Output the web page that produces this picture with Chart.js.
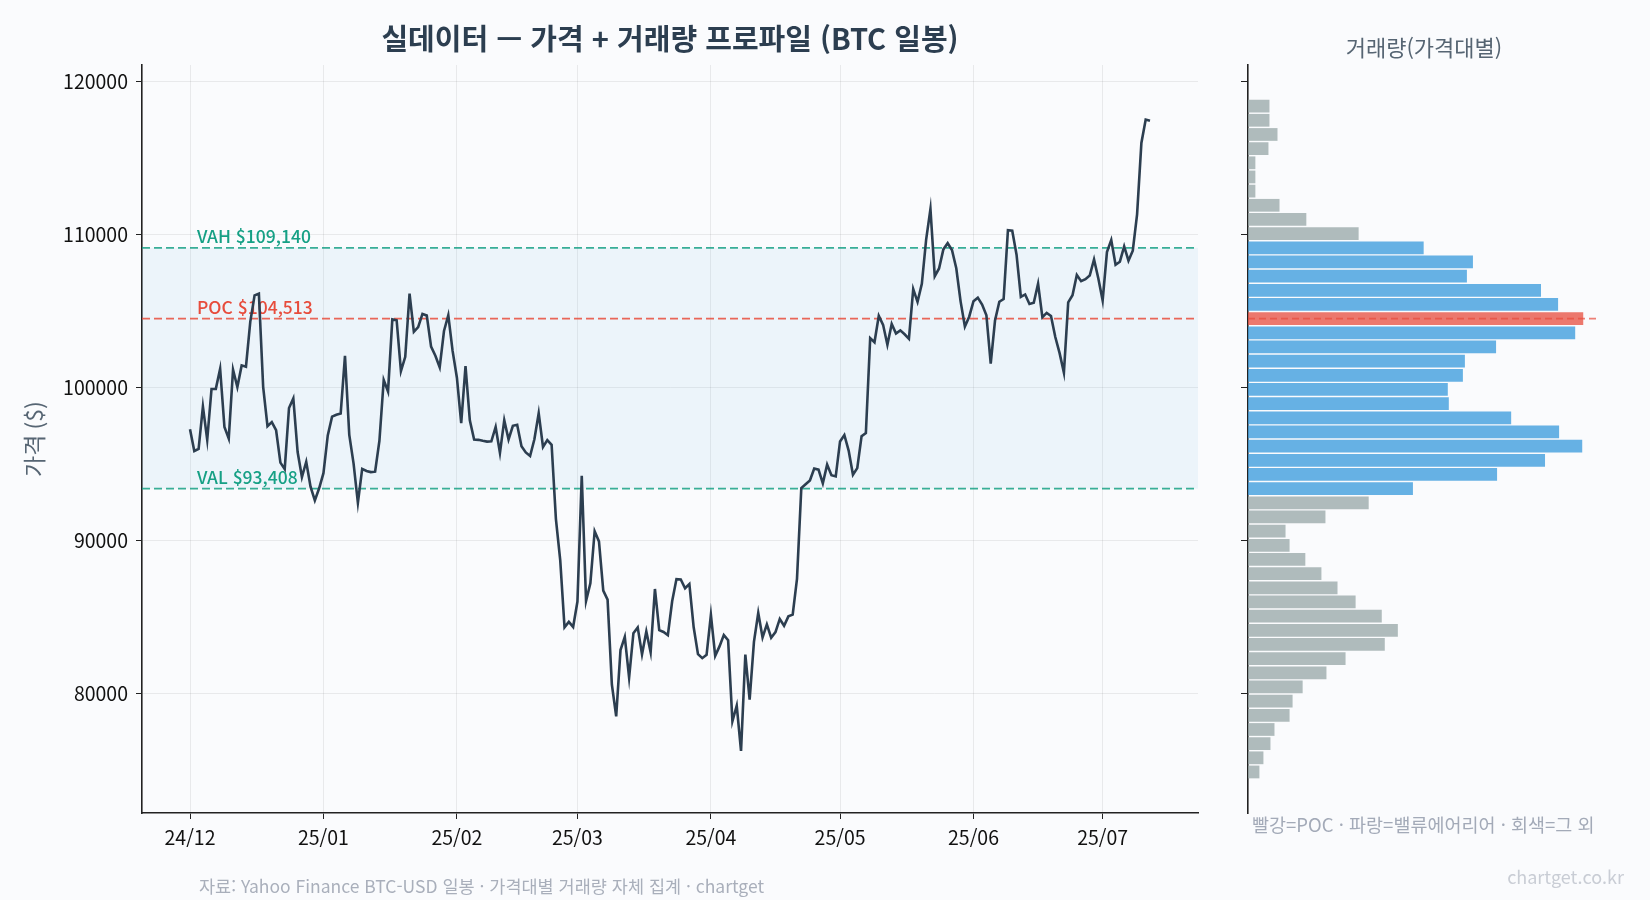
<!DOCTYPE html>
<html lang="ko">
<head>
<meta charset="utf-8">
<title>실데이터 — 가격 + 거래량 프로파일 (BTC 일봉)</title>
<script src="https://cdn.jsdelivr.net/npm/chart.js@4.4.1/dist/chart.umd.min.js"></script>
<style>
  html, body { margin: 0; padding: 0; background: #fafbfd; }
  #wrap { position: relative; width: 1650px; height: 900px; background: #fafbfd;
          font-family: 'Noto Sans CJK KR', 'Noto Sans', sans-serif; overflow: hidden; }
  canvas { position: absolute; top: 0; }
  #priceChart { left: 0; }
  #profileChart { left: 1215px; }
  .txt { position: absolute; white-space: nowrap; line-height: 1; }
  #title { left: 670px; top: 37px; transform: translate(-50%, -50%); font-size: 29px; font-weight: 700; color: #2c3e50; }
  #sideTitle { left: 1424px; top: 46px; transform: translate(-50%, -50%); font-size: 22px; color: #566573; }
  #legendNote { left: 1252px; top: 824px; transform: translateY(-50%); font-size: 18.5px; color: #a3aab8; }
  #source { left: 199px; top: 886px; transform: translateY(-50%); font-size: 17.5px; color: #a9afbb; }
  #brand { right: 26px; top: 876px; transform: translateY(-50%); font-size: 18px; color: #c9cdd5; }
</style>
</head>
<body>
<div id="wrap">
  <canvas id="priceChart" width="1215" height="900"></canvas>
  <canvas id="profileChart" width="435" height="900"></canvas>
  <div class="txt" id="title">실데이터 — 가격 + 거래량 프로파일 (BTC 일봉)</div>
  <div class="txt" id="sideTitle">거래량(가격대별)</div>
  <div class="txt" id="legendNote">빨강=POC · 파랑=밸류에어리어 · 회색=그 외</div>
  <div class="txt" id="source">자료: Yahoo Finance BTC-USD 일봉 · 가격대별 거래량 자체 집계 · chartget</div>
  <div class="txt" id="brand">chartget.co.kr</div>
</div>
<script>
// BTC-USD daily close, 2024-12-01 .. 2025-07-12 (one value per day)
const startDate = '2024-12-01';
const closes = [
  // Dec 2024
  97279, 95865, 96002, 98768, 96593, 99921, 99923, 101237, 97432, 96675,
  101173, 100043, 101459, 101372, 104298, 106030, 106140, 100041, 97490, 97756,
  97224, 95105, 94686, 98676, 99299, 95795, 94164, 95163, 93530, 92643, 93429,
  // Jan 2025
  94419, 96886, 98107, 98237, 98315, 102078, 96922, 95043, 92484, 94701,
  94566, 94488, 94516, 96534, 100505, 99756, 104462, 104408, 101090, 102016,
  106146, 103653, 103960, 104819, 104714, 102682, 102087, 101332, 103703, 104735, 102405,
  // Feb 2025
  100655, 97688, 101405, 97871, 96615, 96594, 96530, 96482, 96500, 97437,
  95748, 97885, 96623, 97508, 97580, 96176, 95773, 95539, 96636, 98334,
  96125, 96577, 96274, 91418, 88736, 84347, 84705, 84373,
  // Mar 2025
  86031, 94248, 86065, 87222, 90623, 89961, 86742, 86154, 80601, 78532,
  82862, 83722, 81066, 83969, 84343, 82579, 84075, 82718, 86854, 84167,
  84044, 83832, 86054, 87498, 87471, 86900, 87177, 84353, 82597, 82334, 82548,
  // Apr 2025
  85169, 82485, 83102, 83843, 83504, 78214, 79235, 76272, 82573, 79626,
  83404, 85287, 83684, 84542, 83668, 84033, 84895, 84450, 85063, 85174,
  87518, 93442, 93699, 93944, 94720, 94646, 93755, 94978, 94284, 94207,
  // May 2025
  96492, 96910, 95891, 94315, 94749, 96835, 97033, 103242, 102970, 104696,
  104107, 102812, 104169, 103539, 103744, 103489, 103191, 106446, 105606, 106791,
  109679, 111673, 107287, 107791, 109035, 109440, 108995, 107802, 105641, 103998, 104639,
  // Jun 2025
  105652, 105882, 105432, 104731, 101575, 104390, 105615, 105793, 110295, 110257,
  108686, 105930, 106091, 105473, 105555, 106795, 104602, 104884, 104682, 103310,
  102257, 100987, 105577, 106046, 107361, 106960, 107088, 107327, 108385, 107135,
  // Jul 2025
  105698, 108859, 109647, 108034, 108231, 109232, 108300, 108950, 111327, 115988,
  117516, 117435
];

// x ticks: day offset from startDate of each month start
const monthDays = [0, 31, 62, 90, 121, 151, 182, 212];
const monthLabels = ['24/12', '25/01', '25/02', '25/03', '25/04', '25/05', '25/06', '25/07'];
const priceTicks = [80000, 90000, 100000, 110000, 120000];

// volume profile: price bin centres (bottom -> top) and relative volume (POC = 100)
const binCenters = [
  74900, 75826, 76751, 77676, 78602, 79527, 80453, 81378, 82303, 83229,
  84154, 85080, 86005, 86930, 87856, 88781, 89707, 90632, 91557, 92483,
  93408, 94334, 95259, 96184, 97110, 98035, 98961, 99886, 100811, 101737,
  102662, 103588, 104513, 105438, 106364, 107289, 108215, 109140, 110065, 110991,
  111916, 112842, 113767, 114692, 115618, 116543, 117469, 118394
];
const binVolume = [
  3.4, 4.6, 6.7, 7.9, 12.4, 13.3, 16.3, 23.4, 29.1, 40.8,
  44.7, 39.9, 32.1, 26.7, 21.9, 17.1, 12.4, 11.2, 23.1, 36.0,
  49.2, 74.3, 88.6, 99.7, 92.8, 78.5, 59.9, 59.6, 64.1, 64.7,
  74.0, 97.6, 100, 92.5, 87.4, 65.3, 67.1, 52.4, 33.0, 17.4,
  9.4, 2.2, 2.2, 2.2, 6.1, 8.8, 6.4, 6.4
];

const poc = 104513;
const vah = 109140;
const val = 93408;

const Y_MIN = 72220;
const Y_MAX = 121080;

const FONT = "'Noto Sans CJK KR', 'Noto Sans', sans-serif";
Chart.defaults.font.family = FONT;
Chart.defaults.color = '#111';

const colors = {
  line: '#2c3e50',
  va: '#16a085',
  poc: '#e74c3c',
  band: 'rgba(52, 152, 219, 0.07)',
  grid: 'rgba(0, 0, 0, 0.07)',
  axis: '#222',
  barPoc: 'rgba(231, 76, 60, 0.75)',
  barVa: 'rgba(52, 152, 219, 0.75)',
  barOther: 'rgba(149, 165, 166, 0.75)'
};

function fmtUsd(v) {
  return '$' + v.toLocaleString('en-US');
}

// value area band, VAH / VAL / POC lines and their labels
const levelsPlugin = {
  id: 'levels',
  beforeDatasetsDraw(chart) {
    const { ctx, chartArea: a, scales: { x, y } } = chart;
    const yH = y.getPixelForValue(vah);
    const yL = y.getPixelForValue(val);
    const yP = y.getPixelForValue(poc);

    ctx.save();
    ctx.fillStyle = colors.band;
    ctx.fillRect(a.left, yH, a.right - a.left, yL - yH);

    ctx.lineWidth = 1.8;
    ctx.setLineDash([8, 4]);
    [[yH, colors.va], [yL, colors.va], [yP, colors.poc]].forEach(([py, c]) => {
      ctx.strokeStyle = c;
      ctx.globalAlpha = 0.85;
      ctx.beginPath();
      ctx.moveTo(a.left, py);
      ctx.lineTo(a.right, py);
      ctx.stroke();
    });
    ctx.setLineDash([]);
    ctx.globalAlpha = 1;

    const lx = x.getPixelForValue(0) + 7;
    ctx.font = '500 17.5px ' + FONT;
    ctx.textBaseline = 'alphabetic';
    ctx.textAlign = 'left';
    ctx.fillStyle = colors.va;
    ctx.fillText('VAH ' + fmtUsd(vah), lx, yH - 5);
    ctx.fillText('VAL ' + fmtUsd(val), lx, yL - 5);
    ctx.fillStyle = colors.poc;
    ctx.fillText('POC ' + fmtUsd(poc), lx, yP - 5);
    ctx.restore();
  }
};

new Chart(document.getElementById('priceChart'), {
  type: 'line',
  data: {
    datasets: [{
      data: closes.map((c, i) => ({ x: i, y: c })),
      borderColor: colors.line,
      borderWidth: 2.6,
      pointRadius: 0,
      tension: 0,
      fill: false
    }]
  },
  options: {
    responsive: false,
    animation: false,
    devicePixelRatio: 1,
    layout: { padding: { left: 0, right: 17, top: 65, bottom: 0 } },
    plugins: { legend: { display: false }, tooltip: { enabled: false } },
    scales: {
      x: {
        type: 'linear',
        min: -11.15,
        max: 234.15,
        afterBuildTicks: s => { s.ticks = monthDays.map(v => ({ value: v })); },
        afterFit: s => { s.height = 87; },
        ticks: {
          autoSkip: false,
          maxRotation: 0,
          padding: 7,
          color: '#111',
          font: { size: 19.5 },
          callback: (v, i) => monthLabels[i]
        },
        grid: { color: colors.grid, tickColor: colors.axis, tickLength: 6 },
        border: { color: colors.axis, width: 1.6 }
      },
      y: {
        min: Y_MIN,
        max: Y_MAX,
        afterBuildTicks: s => { s.ticks = priceTicks.map(v => ({ value: v })); },
        afterFit: s => { s.width = 142; },
        ticks: {
          padding: 8,
          color: '#111',
          font: { size: 19.5 },
          callback: v => String(v)
        },
        grid: { color: colors.grid, tickColor: colors.axis, tickLength: 6 },
        border: { color: colors.axis, width: 1.6 },
        title: {
          display: true,
          text: '가격 ($)',
          color: '#566573',
          font: { size: 23 },
          padding: { top: 20, bottom: 0 }
        }
      }
    }
  },
  plugins: [levelsPlugin]
});

// POC marker across the profile panel
const pocLinePlugin = {
  id: 'pocLine',
  afterDatasetsDraw(chart) {
    const { ctx, chartArea: a, scales: { y } } = chart;
    const py = y.getPixelForValue(poc);
    ctx.save();
    ctx.strokeStyle = colors.poc;
    ctx.globalAlpha = 0.7;
    ctx.lineWidth = 1.6;
    ctx.setLineDash([7, 4]);
    ctx.beginPath();
    ctx.moveTo(a.left, py);
    ctx.lineTo(a.right, py);
    ctx.stroke();
    ctx.restore();
  }
};

const barColors = binCenters.map(c => {
  if (c === poc) return colors.barPoc;
  if (c >= val && c <= vah) return colors.barVa;
  return colors.barOther;
});

new Chart(document.getElementById('profileChart'), {
  type: 'bar',
  data: {
    datasets: [{
      data: binCenters.map((c, i) => ({ x: binVolume[i], y: c })),
      backgroundColor: barColors,
      borderWidth: 0,
      barPercentage: 0.9,
      categoryPercentage: 1
    }]
  },
  options: {
    indexAxis: 'y',
    responsive: false,
    animation: false,
    devicePixelRatio: 1,
    layout: { padding: { left: 0, right: 50, top: 65, bottom: 87 } },
    plugins: { legend: { display: false }, tooltip: { enabled: false } },
    scales: {
      x: { type: 'linear', display: false, min: 0, max: 105 },
      y: {
        type: 'linear',
        offset: false,
        min: Y_MIN,
        max: Y_MAX,
        afterBuildTicks: s => { s.ticks = priceTicks.map(v => ({ value: v })); },
        afterFit: s => { s.width = 33; },
        ticks: { display: false },
        grid: { offset: false, drawOnChartArea: false, tickColor: colors.axis, tickLength: 7 },
        border: { color: colors.axis, width: 1.6 }
      }
    }
  },
  plugins: [pocLinePlugin]
});
</script>
</body>
</html>
